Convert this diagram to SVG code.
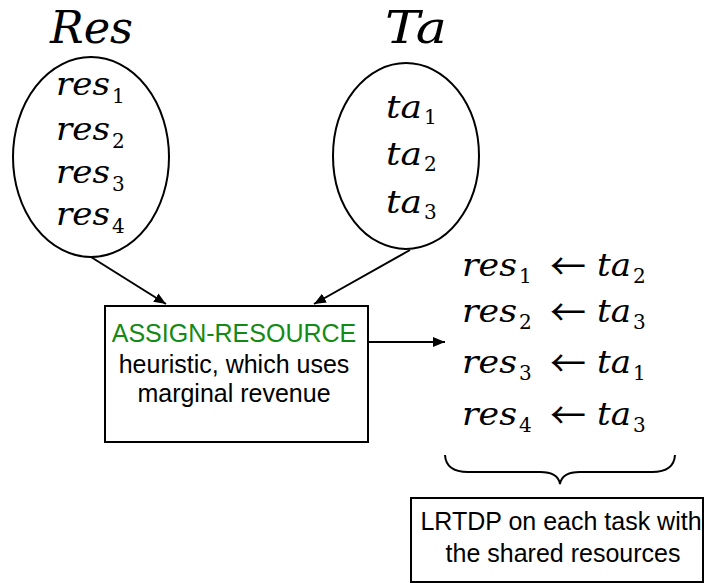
<svg xmlns="http://www.w3.org/2000/svg" width="705" height="583" viewBox="0 0 705 583">
  <style>
    .math { font-family: "DejaVu Serif", serif; font-style: italic; fill: #000; }
    .title { font-size: 45px; }
    .item { font-size: 32px; }
    .sub { font-family: "DejaVu Serif", serif; font-style: normal; font-size: 20px; fill: #000; }
    .arr { font-family: "Noto Sans CJK JP", "DejaVu Sans", sans-serif; font-size: 36px; fill: #000; }
    .label { font-family: "Liberation Sans", Arial, sans-serif; font-size: 25px; fill: #000; text-anchor: middle; }
    .green { fill: #138a13; }
    .shape { fill: none; stroke: #000; stroke-width: 2; }
    .conn { fill: none; stroke: #000; stroke-width: 2; }
  </style>
  <defs>
    <marker id="head" viewBox="0 0 12 10" refX="12" refY="5" markerWidth="6" markerHeight="5" markerUnits="strokeWidth" orient="auto">
      <path d="M0,0 L12,5 L0,10 z" fill="#000"/>
    </marker>
  </defs>
  <rect width="705" height="583" fill="#fff"/>

  <!-- resource set -->
  <g id="res-set">
    <text class="math title" x="50" y="43" textLength="83" lengthAdjust="spacingAndGlyphs">Res</text>
    <ellipse class="shape" cx="91" cy="157" rx="78" ry="100"/>
    <text class="math item" x="56" y="95" textLength="54" lengthAdjust="spacingAndGlyphs">res</text><text class="sub" x="112" y="103">1</text>
    <text class="math item" x="56" y="140" textLength="54" lengthAdjust="spacingAndGlyphs">res</text><text class="sub" x="112" y="148">2</text>
    <text class="math item" x="56" y="183" textLength="54" lengthAdjust="spacingAndGlyphs">res</text><text class="sub" x="112" y="191">3</text>
    <text class="math item" x="56" y="225" textLength="54" lengthAdjust="spacingAndGlyphs">res</text><text class="sub" x="112" y="233">4</text>
  </g>

  <!-- task set -->
  <g id="task-set">
    <text class="math title" x="385" y="43" textLength="62" lengthAdjust="spacingAndGlyphs">Ta</text>
    <ellipse class="shape" cx="406" cy="156" rx="73" ry="93"/>
    <text class="math item" x="386" y="118" textLength="36" lengthAdjust="spacingAndGlyphs">ta</text><text class="sub" x="424" y="124">1</text>
    <text class="math item" x="386" y="165" textLength="36" lengthAdjust="spacingAndGlyphs">ta</text><text class="sub" x="424" y="171">2</text>
    <text class="math item" x="386" y="213" textLength="36" lengthAdjust="spacingAndGlyphs">ta</text><text class="sub" x="424" y="219">3</text>
  </g>

  <!-- heuristic box -->
  <g id="assign-resource">
    <rect class="shape" x="105" y="306" width="263" height="136"/>
    <text class="label green" x="234" y="342">ASSIGN-RESOURCE</text>
    <text class="label" x="234" y="373">heuristic, which uses</text>
    <text class="label" x="234" y="402">marginal revenue</text>
  </g>

  <!-- resulting assignment -->
  <g id="assignment">
    <text class="math item" x="462" y="276" textLength="55" lengthAdjust="spacingAndGlyphs">res</text><text class="sub" x="519" y="283">1</text>
    <text class="arr" x="550" y="280">←</text>
    <text class="math item" x="597" y="276" textLength="34" lengthAdjust="spacingAndGlyphs">ta</text><text class="sub" x="633" y="283">2</text>

    <text class="math item" x="462" y="322" textLength="55" lengthAdjust="spacingAndGlyphs">res</text><text class="sub" x="519" y="329">2</text>
    <text class="arr" x="550" y="326">←</text>
    <text class="math item" x="597" y="322" textLength="34" lengthAdjust="spacingAndGlyphs">ta</text><text class="sub" x="633" y="329">3</text>

    <text class="math item" x="462" y="373" textLength="55" lengthAdjust="spacingAndGlyphs">res</text><text class="sub" x="519" y="380">3</text>
    <text class="arr" x="550" y="377">←</text>
    <text class="math item" x="597" y="373" textLength="34" lengthAdjust="spacingAndGlyphs">ta</text><text class="sub" x="633" y="380">1</text>

    <text class="math item" x="462" y="425" textLength="55" lengthAdjust="spacingAndGlyphs">res</text><text class="sub" x="519" y="432">4</text>
    <text class="arr" x="550" y="429">←</text>
    <text class="math item" x="597" y="425" textLength="34" lengthAdjust="spacingAndGlyphs">ta</text><text class="sub" x="633" y="432">3</text>
  </g>

  <!-- brace under the assignment -->
  <g id="brace">
    <path class="conn" d="M445,455 Q446,472 468,472 L540,472 Q558,472 560,484 Q562,472 580,472 L652,472 Q674,472 675,455"/>
  </g>

  <!-- solver box -->
  <g id="lrtdp">
    <rect class="shape" x="411" y="498" width="292" height="84"/>
    <text class="label" x="561" y="530">LRTDP on each task with</text>
    <text class="label" x="563" y="562">the shared resources</text>
  </g>

  <!-- connectors -->
  <g id="connectors">
    <line class="conn" x1="91" y1="257" x2="166" y2="304" marker-end="url(#head)"/>
    <line class="conn" x1="410" y1="250" x2="314" y2="304" marker-end="url(#head)"/>
    <line class="conn" x1="368" y1="342" x2="445" y2="342" marker-end="url(#head)"/>
  </g>
</svg>
